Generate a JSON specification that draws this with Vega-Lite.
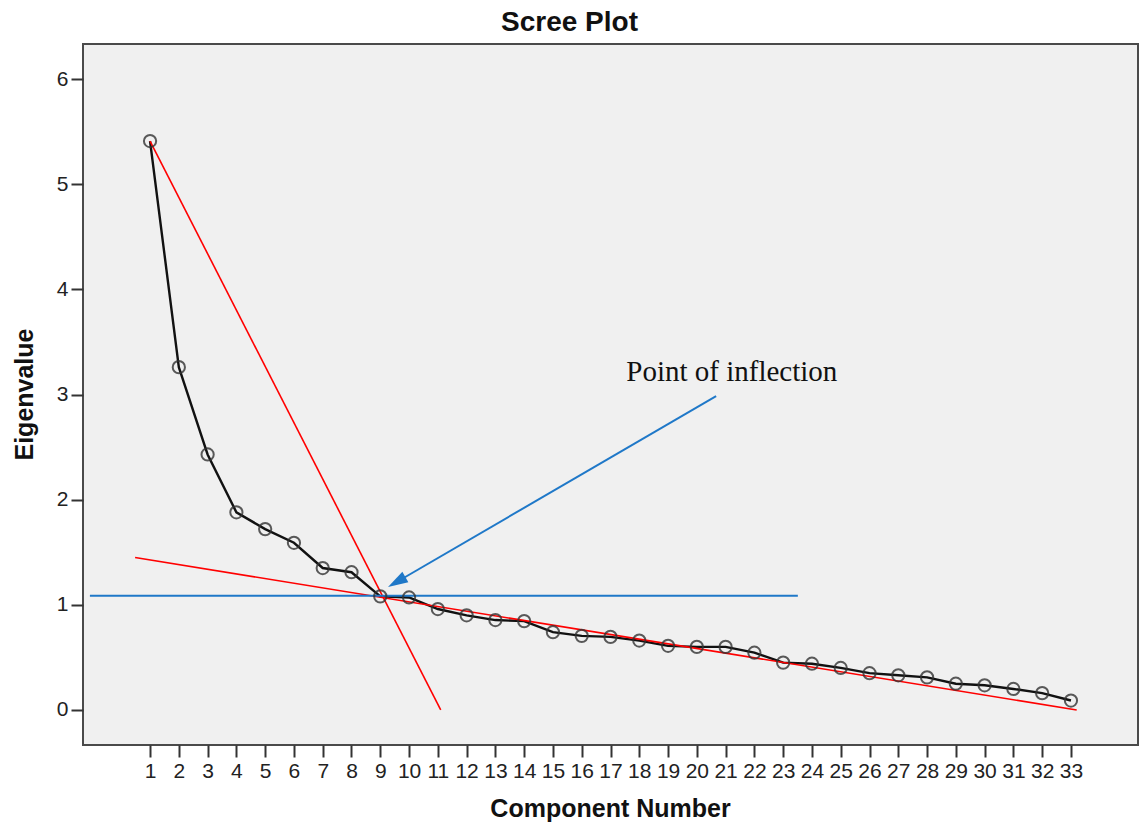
{
  "$schema": "https://vega.github.io/schema/vega-lite/v6.json",
  "width": 1055,
  "height": 701,
  "autosize": "none",
  "padding": {"left": 83, "top": 44, "right": 5, "bottom": 77},
  "background": "white",
  "title": {
    "text": "Scree Plot",
    "font": "Liberation Sans",
    "fontSize": 28,
    "fontWeight": "bold",
    "color": "#111111",
    "anchor": "middle",
    "dx": -41,
    "dy": 27,
    "offset": 12,
    "baseline": "alphabetic"
  },
  "config": {
    "view": {"fill": "#f0f0f0", "stroke": "#4a4a4a", "strokeWidth": 2},
    "axis": {
      "domain": false,
      "grid": false,
      "labelFont": "Liberation Sans",
      "labelFontSize": 21,
      "labelColor": "#222222",
      "tickColor": "#333333",
      "tickWidth": 2,
      "tickSize": 12,
      "labelPadding": 3,
      "titleFont": "Liberation Sans",
      "titleFontWeight": "bold",
      "titleColor": "#111111"
    }
  },
  "datasets": {
    "scree": [
      {"comp": 1, "eig": 5.41}, {"comp": 2, "eig": 3.26}, {"comp": 3, "eig": 2.43},
      {"comp": 4, "eig": 1.88}, {"comp": 5, "eig": 1.72}, {"comp": 6, "eig": 1.59},
      {"comp": 7, "eig": 1.35}, {"comp": 8, "eig": 1.31}, {"comp": 9, "eig": 1.08},
      {"comp": 10, "eig": 1.07}, {"comp": 11, "eig": 0.96}, {"comp": 12, "eig": 0.9},
      {"comp": 13, "eig": 0.855}, {"comp": 14, "eig": 0.845}, {"comp": 15, "eig": 0.74},
      {"comp": 16, "eig": 0.705}, {"comp": 17, "eig": 0.695}, {"comp": 18, "eig": 0.66},
      {"comp": 19, "eig": 0.61}, {"comp": 20, "eig": 0.6}, {"comp": 21, "eig": 0.6},
      {"comp": 22, "eig": 0.545}, {"comp": 23, "eig": 0.45}, {"comp": 24, "eig": 0.44},
      {"comp": 25, "eig": 0.4}, {"comp": 26, "eig": 0.35}, {"comp": 27, "eig": 0.33},
      {"comp": 28, "eig": 0.31}, {"comp": 29, "eig": 0.25}, {"comp": 30, "eig": 0.235},
      {"comp": 31, "eig": 0.2}, {"comp": 32, "eig": 0.16}, {"comp": 33, "eig": 0.09}
    ],
    "red": [
      {"seg": "steep", "x": 1, "y": 5.41}, {"seg": "steep", "x": 11.1, "y": 0},
      {"seg": "shallow", "x": 0.48, "y": 1.45}, {"seg": "shallow", "x": 33.2, "y": 0.0}
    ],
    "blue": [
      {"seg": "h", "x": -1.09, "y": 1.087}, {"seg": "h", "x": 23.51, "y": 1.087},
      {"seg": "arrow", "x": 20.67, "y": 2.985}, {"seg": "arrow", "x": 9.57, "y": 1.217}
    ],
    "head": [{"x": 9.57, "y": 1.217}],
    "label": [{"x": 17.55, "y": 3.128, "text": "Point of inflection"}]
  },
  "encoding": {
    "x": {
      "field": "x",
      "type": "quantitative",
      "scale": {"domain": [-1.33, 35.33], "nice": false, "zero": false},
      "axis": {
        "values": [1,2,3,4,5,6,7,8,9,10,11,12,13,14,15,16,17,18,19,20,21,22,23,24,25,26,27,28,29,30,31,32,33],
        "title": "Component Number",
        "titleFontSize": 25,
        "titleX": 527,
        "titleY": 63,
        "titleBaseline": "middle",
        "labelFlush": false,
        "labelOverlap": false
      }
    },
    "y": {
      "field": "y",
      "type": "quantitative",
      "scale": {"domain": [-0.333, 6.333], "nice": false, "zero": false},
      "axis": {
        "values": [0, 1, 2, 3, 4, 5, 6],
        "title": "Eigenvalue",
        "titleFontSize": 25,
        "titleX": -59,
        "titleY": 350,
        "titleAngle": -90,
        "titleBaseline": "middle",
        "titleAlign": "center"
      }
    }
  },
  "layer": [
    {
      "data": {"name": "scree"},
      "mark": {"type": "line", "color": "#111111", "strokeWidth": 2.4},
      "encoding": {
        "x": {"field": "comp", "type": "quantitative"},
        "y": {"field": "eig", "type": "quantitative"}
      }
    },
    {
      "data": {"name": "red"},
      "mark": {"type": "line", "color": "#ff0000", "strokeWidth": 1.6},
      "encoding": {"detail": {"field": "seg"}}
    },
    {
      "data": {"name": "blue"},
      "mark": {"type": "line", "color": "#1f78c8", "strokeWidth": 2},
      "encoding": {"detail": {"field": "seg"}}
    },
    {
      "data": {"name": "scree"},
      "mark": {"type": "point", "shape": "circle", "filled": false, "stroke": "#333333", "strokeWidth": 2, "size": 150, "opacity": 0.8},
      "encoding": {
        "x": {"field": "comp", "type": "quantitative"},
        "y": {"field": "eig", "type": "quantitative"}
      }
    },
    {
      "data": {"name": "head"},
      "mark": {"type": "point", "shape": "M0,-1L0.6,1L-0.6,1Z", "filled": true, "fill": "#1f78c8", "stroke": null, "size": 400, "angle": 240, "opacity": 1}
    },
    {
      "data": {"name": "label"},
      "mark": {"type": "text", "font": "Liberation Serif", "fontSize": 29, "align": "left", "baseline": "alphabetic", "color": "#111111"},
      "encoding": {"text": {"field": "text"}}
    }
  ]
}
